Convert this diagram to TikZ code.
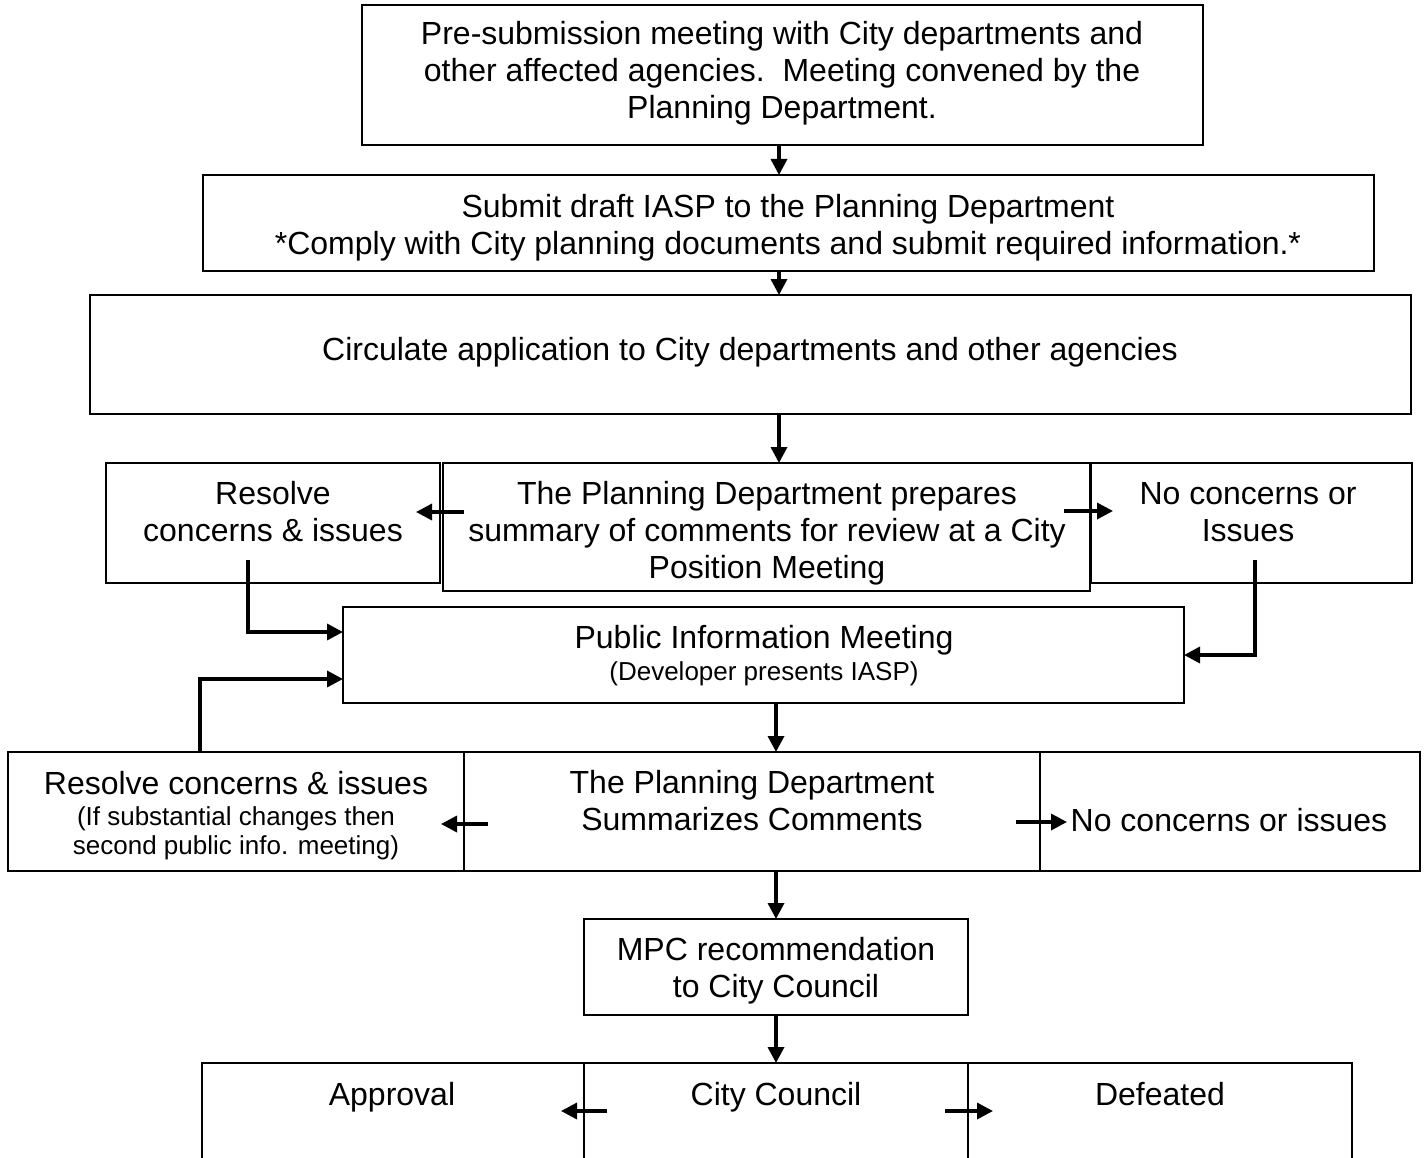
\documentclass[tikz,border=0pt]{standalone}
\usepackage{fontspec}
\setmainfont{Liberation Sans}
\usetikzlibrary{arrows.meta}
\tikzset{
  box/.style={draw, line width=1.8pt, inner sep=0pt, outer sep=0pt, anchor=north west},
  txt/.style={inner sep=0pt, align=center, font=\fontsize{32}{37}\selectfont},
  stxt/.style={inner sep=0pt, align=center, font=\fontsize{26}{29}\selectfont},
  arr/.style={line width=3.4pt, -{Triangle[length=16pt,width=16pt]}},
  elb/.style={line width=3.4pt, -{Triangle[length=16pt,width=16pt]}}
}
\begin{document}
\begin{tikzpicture}[x=1pt,y=-1pt]
\useasboundingbox (0,0) rectangle (1426,1158);
\clip (0,0) rectangle (1426,1158);
% boxes
\node[box, minimum width=841pt, minimum height=140pt] (b1) at (362,5) {};
\node[box, minimum width=1171pt, minimum height=96pt] (b2) at (203,175) {};
\node[box, minimum width=1321pt, minimum height=119pt] (b3) at (90,295) {};
\node[box, minimum width=334pt, minimum height=120pt] (b4l) at (106,463) {};
\node[box, minimum width=321pt, minimum height=120pt] (b4r) at (1091,463) {};
\node[box, minimum width=647pt, minimum height=128pt, fill=white] (b4m) at (443,463) {};
\node[box, minimum width=841pt, minimum height=96pt] (b5) at (343,607) {};
\node[box, minimum width=456pt, minimum height=119pt] (b6l) at (8,752) {};
\node[box, minimum width=576pt, minimum height=119pt] (b6m) at (464,752) {};
\node[box, minimum width=380pt, minimum height=119pt] (b6r) at (1040,752) {};
\node[box, minimum width=384pt, minimum height=96pt] (b7) at (584,919) {};
\node[box, minimum width=382pt, minimum height=160pt] (b8l) at (202,1063) {};
\node[box, minimum width=384pt, minimum height=160pt] (b8m) at (584,1063) {};
\node[box, minimum width=384pt, minimum height=160pt] (b8r) at (968,1063) {};
% texts
\node[txt] (t1) at (782,73) {Pre-submission meeting with City departments and\\other affected agencies.\ \ Meeting convened by the\\Planning Department.};
\node[txt] (t2) at (788,228) {Submit draft IASP to the Planning Department\\*Comply with City planning documents and submit required information.*};
\node[txt] (t3) at (750,352) {Circulate application to City departments and other agencies};
\node[txt] (t4l) at (273,512) {Resolve\\concerns \& issues};
\node[txt] (t4m) at (767,533) {The Planning Department prepares\\summary of comments for review at a City\\Position Meeting};
\node[txt] (t4r) at (1248,512) {No concerns or\\Issues};
\node[txt] (t5a) at (764,640) {Public Information Meeting};
\node[stxt] (t5b) at (764,674) {(Developer presents IASP)};
\node[txt] (t6la) at (236,783) {Resolve concerns \& issues};
\node[stxt] (t6lb) at (236,833) {(If substantial changes then\\second public info. meeting)};
\node[txt] (t6m) at (752,801) {The Planning Department\\Summarizes Comments};
\node[txt] (t6r) at (1229,820) {No concerns or issues};
\node[txt] (t7) at (776,971) {MPC recommendation\\to City Council};
\node[txt, anchor=base] (t8l) at (392,1105) {Approval};
\node[txt, anchor=base] (t8m) at (776,1105) {City Council};
\node[txt, anchor=base] (t8r) at (1160,1105) {Defeated};
% connector end points
\coordinate (s4l) at (464,512);
\coordinate (e4l) at (416,512);
\coordinate (s4r) at (1064,511);
\coordinate (e4r) at (1113,511);
\coordinate (u4l) at (248,560);
\coordinate (u4r) at (1255,560);
\coordinate (u6l) at (200,752);
\coordinate (s6l) at (488,824);
\coordinate (e6l) at (441,824);
\coordinate (s6r) at (1016,822);
\coordinate (e6r) at (1067,822);
\coordinate (s8l) at (607,1111);
\coordinate (e8l) at (561,1111);
\coordinate (s8r) at (945,1111);
\coordinate (e8r) at (993,1111);
% arrows
\draw[arr] (b1.south -| 779,0) -- (b2.north -| 779,0);
\draw[arr] (b2.south -| 779,0) -- (b3.north -| 779,0);
\draw[arr] (b3.south -| 779,0) -- (b4m.north -| 779,0);
\draw[arr] (s4l) -- (e4l);
\draw[arr] (s4r) -- (e4r);
\draw[elb] (u4l) |- ([yshift=23pt]b5.west);
\draw[elb] (u4r) |- (b5.east);
\draw[elb] (u6l) |- ([yshift=-24pt]b5.west);
\draw[arr] (b5.south -| 776,0) -- (b6m.north -| 776,0);
\draw[arr] (s6l) -- (e6l);
\draw[arr] (s6r) -- (e6r);
\draw[arr] (b6m.south -| 776,0) -- (b7.north);
\draw[arr] (b7.south) -- (b8m.north);
\draw[arr] (s8l) -- (e8l);
\draw[arr] (s8r) -- (e8r);
\end{tikzpicture}
\end{document}
